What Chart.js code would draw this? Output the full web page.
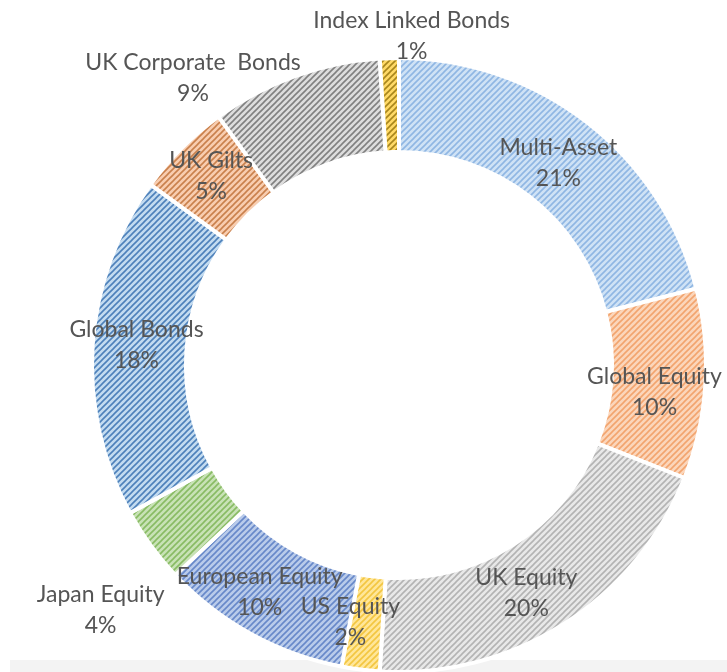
<!DOCTYPE html>
<html>
<head>
<meta charset="utf-8">
<title>Asset Allocation</title>
<script src="https://cdn.jsdelivr.net/npm/chart.js@4.4.1/dist/chart.umd.min.js"></script>
<style>
  html, body { margin: 0; padding: 0; background: #ffffff; }
  #wrap { width: 727px; height: 672px; }
</style>
</head>
<body>
<div id="wrap"><canvas id="allocationChart" width="727" height="672"></canvas></div>
<script>
// Fund allocation, clockwise from 12 o'clock
const assetClasses = [
  "Multi-Asset", "Global Equity", "UK Equity", "US Equity", "European Equity",
  "Japan Equity", "Global Bonds", "UK Gilts", "UK Corporate  Bonds", "Index Linked Bonds"
];
const allocationPct = [21, 10, 20, 2, 10, 4, 18, 5, 9, 1];

// Hatch colours: [fill, stripe]
const hatchColours = [
  ["#cfe2f5", "#8fb6e3"],
  ["#fbd6bb", "#f2a46e"],
  ["#e8e8e8", "#b3b3b3"],
  ["#ffe699", "#f3c640"],
  ["#b9cbea", "#6788c9"],
  ["#c8e2b6", "#88bb63"],
  ["#c3dbf0", "#4d80ba"],
  ["#f8cdb0", "#c9804c"],
  ["#dddddd", "#808080"],
  ["#ffd966", "#a8861c"]
];

// Label placement: radius (null = middle of ring) plus pixel nudge
const labelPlacement = [
  { r: null, dx: 0, dy: 3 },
  { r: null, dx: -4, dy: 10 },
  { r: null, dx: -12, dy: 8 },
  { r: null, dx: -16, dy: -1 },
  { r: null, dx: -14, dy: -1 },
  { r: 370, dx: 1, dy: 27 },
  { r: null, dx: -3, dy: -4 },
  { r: null, dx: -4, dy: -6 },
  { r: 310, dx: -101, dy: 4 },
  { r: 330, dx: 23, dy: 0 }
];

function makeHatch(bg, stripe) {
  const s = 6;
  const tile = document.createElement("canvas");
  tile.width = s;
  tile.height = s;
  const c = tile.getContext("2d");
  c.fillStyle = bg;
  c.fillRect(0, 0, s, s);
  c.strokeStyle = stripe;
  c.lineWidth = 1.6;
  c.beginPath();
  c.moveTo(-1, s + 1); c.lineTo(s + 1, -1);
  c.moveTo(-1, 1); c.lineTo(1, -1);
  c.moveTo(s - 1, s + 1); c.lineTo(s + 1, s - 1);
  c.stroke();
  return c.createPattern(tile, "repeat");
}

const ctx = document.getElementById("allocationChart").getContext("2d");
const patterns = hatchColours.map(([bg, stripe]) => makeHatch(bg, stripe));

// faint strip along the bottom edge of the chart frame
const bottomStrip = {
  id: "bottomStrip",
  beforeDraw(chart) {
    const g = chart.ctx;
    g.save();
    g.fillStyle = "#f3f3f3";
    g.fillRect(10, 660, chart.width - 10, chart.height - 660);
    g.restore();
  }
};

// Draws "name / nn%" labels for each slice
const sliceLabels = {
  id: "sliceLabels",
  afterDatasetsDraw(chart) {
    const g = chart.ctx;
    const meta = chart.getDatasetMeta(0);
    g.save();
    g.font = "23px Lato";
    g.fillStyle = "#555555";
    g.textAlign = "center";
    g.textBaseline = "middle";
    meta.data.forEach((arc, i) => {
      const p = arc.getProps(["x", "y", "startAngle", "endAngle", "innerRadius", "outerRadius"], true);
      const mid = (p.startAngle + p.endAngle) / 2;
      const place = labelPlacement[i];
      const rr = place.r === null ? (p.innerRadius + p.outerRadius) / 2 : place.r;
      const px = p.x + Math.cos(mid) * rr + place.dx;
      const py = p.y + Math.sin(mid) * rr + place.dy;
      g.fillText(assetClasses[i], px, py - 15);
      g.fillText(allocationPct[i] + "%", px, py + 16);
    });
    g.restore();
  }
};

new Chart(ctx, {
  type: "doughnut",
  data: {
    labels: assetClasses,
    datasets: [
      {
        data: allocationPct,
        backgroundColor: patterns,
        borderColor: "#ffffff",
        borderWidth: 4,
        radius: 307,
        cutout: "69.4%"
      }
    ]
  },
  options: {
    responsive: false,
    animation: false,
    layout: {
      padding: { left: 77, right: 6, top: 58, bottom: 0 }
    },
    plugins: {
      legend: { display: false },
      tooltip: { enabled: false }
    }
  },
  plugins: [bottomStrip, sliceLabels]
});
</script>
</body>
</html>
